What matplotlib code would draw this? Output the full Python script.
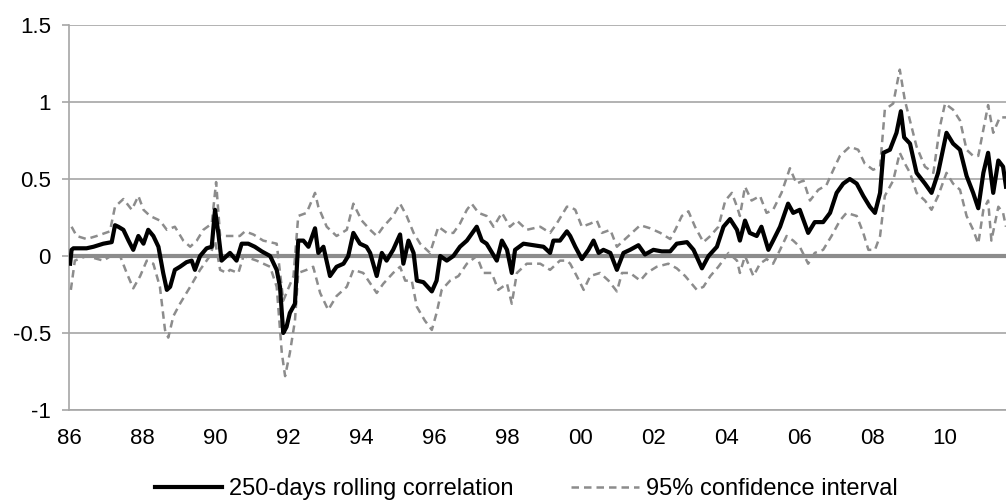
"""
Rolling correlation chart: 250-day rolling correlation with 95% confidence band.

Saves:
  out.png
"""

import matplotlib
matplotlib.use("Agg")
import matplotlib.pyplot as plt

# --- Data (decimal years) ---
corr_t = [
    1986.03, 1986.07, 1986.12, 1986.48, 1986.67, 1986.94, 1987.17, 1987.26, 1987.35, 1987.49,
    1987.63, 1987.76, 1987.90, 1988.04, 1988.17, 1988.31, 1988.45, 1988.58, 1988.68, 1988.77,
    1988.90, 1989.04, 1989.22, 1989.36, 1989.45, 1989.59, 1989.77, 1989.91, 1990.00, 1990.09,
    1990.18, 1990.32, 1990.41, 1990.59, 1990.73, 1990.91, 1991.09, 1991.28, 1991.51, 1991.69,
    1991.78, 1991.87, 1991.96, 1992.05, 1992.19, 1992.28, 1992.42, 1992.56, 1992.74, 1992.83,
    1992.97, 1993.15, 1993.33, 1993.52, 1993.65, 1993.79, 1993.97, 1994.15, 1994.25, 1994.43,
    1994.57, 1994.70, 1994.88, 1995.07, 1995.16, 1995.30, 1995.44, 1995.53, 1995.71, 1995.94,
    1996.07, 1996.17, 1996.35, 1996.53, 1996.71, 1996.90, 1997.17, 1997.31, 1997.44, 1997.72,
    1997.86, 1998.00, 1998.13, 1998.22, 1998.45, 1998.72, 1999.00, 1999.18, 1999.27, 1999.45,
    1999.64, 1999.73, 1999.87, 2000.05, 2000.23, 2000.37, 2000.51, 2000.64, 2000.83, 2001.01,
    2001.19, 2001.37, 2001.60, 2001.78, 2002.01, 2002.24, 2002.47, 2002.65, 2002.93, 2003.11,
    2003.34, 2003.52, 2003.75, 2003.93, 2004.11, 2004.30, 2004.38, 2004.52, 2004.65, 2004.84,
    2004.97, 2005.16, 2005.29, 2005.48, 2005.70, 2005.84, 2006.02, 2006.25, 2006.43, 2006.66,
    2006.85, 2007.03, 2007.21, 2007.39, 2007.58, 2007.76, 2007.94, 2008.08, 2008.22, 2008.31,
    2008.49, 2008.67, 2008.79, 2008.88, 2009.04, 2009.22, 2009.45, 2009.63, 2009.81, 2010.04,
    2010.22, 2010.41, 2010.59, 2010.77, 2010.91, 2011.05, 2011.18, 2011.32, 2011.46, 2011.59,
    2011.67,
]
corr_v = [
    -0.05, 0.04, 0.05, 0.05, 0.06, 0.08, 0.09, 0.20, 0.19, 0.17,
    0.10, 0.04, 0.13, 0.08, 0.17, 0.13, 0.06, -0.11, -0.22, -0.20,
    -0.09, -0.07, -0.04, -0.03, -0.09, 0.00, 0.05, 0.06, 0.30, 0.15,
    -0.03, 0.00, 0.02, -0.03, 0.08, 0.08, 0.06, 0.03, 0.00, -0.09,
    -0.20, -0.50, -0.46, -0.37, -0.31, 0.10, 0.10, 0.06, 0.18, 0.02,
    0.06, -0.13, -0.07, -0.05, 0.00, 0.15, 0.08, 0.06, 0.02, -0.13,
    0.02, -0.03, 0.04, 0.14, -0.05, 0.10, 0.02, -0.16, -0.17, -0.23,
    -0.16, 0.00, -0.03, 0.00, 0.06, 0.10, 0.19, 0.10, 0.08, -0.03,
    0.10, 0.04, -0.11, 0.04, 0.08, 0.07, 0.06, 0.02, 0.10, 0.10,
    0.16, 0.13, 0.06, -0.02, 0.04, 0.10, 0.02, 0.04, 0.02, -0.09,
    0.02, 0.04, 0.07, 0.01, 0.04, 0.03, 0.03, 0.08, 0.09, 0.04,
    -0.08, 0.00, 0.06, 0.19, 0.24, 0.17, 0.10, 0.23, 0.15, 0.13,
    0.19, 0.04, 0.10, 0.19, 0.34, 0.28, 0.30, 0.15, 0.22, 0.22,
    0.28, 0.41, 0.47, 0.50, 0.47, 0.39, 0.32, 0.28, 0.41, 0.67,
    0.69, 0.80, 0.94, 0.77, 0.73, 0.54, 0.47, 0.41, 0.54, 0.80,
    0.73, 0.69, 0.52, 0.41, 0.31, 0.54, 0.67, 0.41, 0.62, 0.58,
    0.45,
]

upper_t = [
    1986.07, 1986.21, 1986.48, 1986.76, 1987.12, 1987.26, 1987.49, 1987.72, 1987.90, 1988.04,
    1988.22, 1988.49, 1988.68, 1988.90, 1989.13, 1989.32, 1989.50, 1989.68, 1989.91, 1990.03,
    1990.14, 1990.41, 1990.68, 1990.82, 1991.05, 1991.32, 1991.69, 1991.87, 1992.15, 1992.28,
    1992.51, 1992.74, 1992.83, 1993.06, 1993.33, 1993.61, 1993.79, 1994.02, 1994.25, 1994.43,
    1994.61, 1994.88, 1995.07, 1995.25, 1995.44, 1995.62, 1995.89, 1996.12, 1996.35, 1996.53,
    1996.71, 1996.90, 1997.03, 1997.22, 1997.44, 1997.63, 1997.86, 1998.08, 1998.27, 1998.54,
    1998.91, 1999.18, 1999.36, 1999.64, 1999.73, 1999.87, 2000.05, 2000.28, 2000.46, 2000.60,
    2000.83, 2001.01, 2001.19, 2001.42, 2001.65, 2001.92, 2002.20, 2002.47, 2002.61, 2002.79,
    2002.97, 2003.15, 2003.38, 2003.57, 2003.79, 2003.98, 2004.16, 2004.30, 2004.38, 2004.52,
    2004.70, 2004.93, 2005.11, 2005.29, 2005.52, 2005.75, 2005.93, 2006.12, 2006.30, 2006.53,
    2006.75, 2006.94, 2007.12, 2007.39, 2007.62, 2007.80, 2008.03, 2008.22, 2008.35, 2008.58,
    2008.76, 2008.90, 2009.04, 2009.22, 2009.45, 2009.68, 2009.86, 2010.00, 2010.22, 2010.41,
    2010.59, 2010.77, 2010.91, 2011.05, 2011.18, 2011.32, 2011.50, 2011.67,
]
upper_v = [
    0.19, 0.13, 0.11, 0.13, 0.16, 0.32, 0.37, 0.30, 0.39, 0.30,
    0.26, 0.23, 0.17, 0.19, 0.10, 0.06, 0.10, 0.17, 0.21, 0.48,
    0.13, 0.13, 0.13, 0.16, 0.14, 0.10, 0.08, -0.29, -0.13, 0.26,
    0.28, 0.41, 0.32, 0.19, 0.13, 0.17, 0.34, 0.23, 0.17, 0.13,
    0.19, 0.26, 0.34, 0.26, 0.15, 0.08, 0.02, 0.19, 0.15, 0.15,
    0.21, 0.30, 0.34, 0.28, 0.26, 0.19, 0.28, 0.19, 0.23, 0.17,
    0.19, 0.15, 0.21, 0.32, 0.32, 0.30, 0.19, 0.21, 0.23, 0.15,
    0.17, 0.06, 0.10, 0.15, 0.20, 0.18, 0.15, 0.11, 0.17, 0.26,
    0.29, 0.19, 0.09, 0.13, 0.19, 0.36, 0.41, 0.32, 0.26, 0.45,
    0.36, 0.39, 0.28, 0.30, 0.41, 0.57, 0.47, 0.49, 0.36, 0.43,
    0.46, 0.56, 0.65, 0.71, 0.69, 0.60, 0.56, 0.58, 0.95, 0.99,
    1.21, 1.01, 0.88, 0.71, 0.58, 0.54, 0.84, 0.99, 0.95, 0.88,
    0.69, 0.65, 0.65, 0.82, 0.98, 0.80, 0.90, 0.90,
]

lower_t = [
    1986.05, 1986.16, 1986.48, 1986.94, 1987.21, 1987.40, 1987.58, 1987.76, 1987.95, 1988.13,
    1988.31, 1988.49, 1988.63, 1988.72, 1988.86, 1989.04, 1989.32, 1989.59, 1989.86, 1990.00,
    1990.14, 1990.32, 1990.41, 1990.64, 1990.78, 1991.14, 1991.51, 1991.69, 1991.83, 1991.92,
    1992.05, 1992.19, 1992.28, 1992.51, 1992.69, 1992.88, 1993.10, 1993.33, 1993.61, 1993.79,
    1994.06, 1994.43, 1994.61, 1994.88, 1995.07, 1995.21, 1995.39, 1995.53, 1995.75, 1995.94,
    1996.07, 1996.21, 1996.44, 1996.67, 1996.90, 1997.17, 1997.35, 1997.58, 1997.76, 1998.00,
    1998.13, 1998.27, 1998.54, 1998.91, 1999.18, 1999.45, 1999.64, 1999.73, 1999.91, 2000.10,
    2000.28, 2000.55, 2000.78, 2001.01, 2001.15, 2001.37, 2001.65, 2001.83, 2002.10, 2002.42,
    2002.65, 2002.88, 2003.20, 2003.38, 2003.57, 2003.79, 2004.07, 2004.30, 2004.38, 2004.52,
    2004.75, 2004.93, 2005.11, 2005.29, 2005.48, 2005.66, 2005.84, 2006.02, 2006.25, 2006.43,
    2006.66, 2006.89, 2007.12, 2007.30, 2007.58, 2007.76, 2007.90, 2008.08, 2008.22, 2008.35,
    2008.58, 2008.76, 2008.90, 2009.04, 2009.22, 2009.45, 2009.63, 2009.81, 2010.04, 2010.22,
    2010.41, 2010.59, 2010.77, 2010.91, 2011.05, 2011.18, 2011.27, 2011.46, 2011.59, 2011.67,
]
lower_v = [
    -0.22, -0.03, 0.00, -0.03, 0.01, 0.00, -0.11, -0.21, -0.13, -0.03,
    -0.05, -0.20, -0.48, -0.53, -0.39, -0.31, -0.20, -0.09, 0.00, 0.10,
    -0.09, -0.11, -0.09, -0.11, 0.00, -0.03, -0.07, -0.20, -0.63, -0.78,
    -0.63, -0.42, -0.11, -0.09, -0.07, -0.24, -0.35, -0.26, -0.20, -0.09,
    -0.11, -0.24, -0.18, -0.11, -0.07, -0.16, -0.16, -0.33, -0.42, -0.48,
    -0.37, -0.22, -0.16, -0.13, -0.05, 0.00, -0.11, -0.11, -0.22, -0.18,
    -0.31, -0.11, -0.05, -0.05, -0.09, -0.03, -0.03, -0.05, -0.13, -0.22,
    -0.13, -0.11, -0.16, -0.23, -0.11, -0.11, -0.16, -0.11, -0.07, -0.05,
    -0.08, -0.13, -0.22, -0.20, -0.13, -0.07, 0.02, -0.03, -0.11, 0.00,
    -0.13, -0.05, -0.02, -0.05, 0.04, 0.13, 0.10, 0.06, -0.05, 0.02,
    0.04, 0.13, 0.23, 0.28, 0.26, 0.15, 0.04, 0.04, 0.13, 0.39,
    0.49, 0.67, 0.60, 0.54, 0.41, 0.36, 0.30, 0.39, 0.54, 0.47,
    0.43, 0.26, 0.17, 0.08, 0.30, 0.36, 0.10, 0.32, 0.28, 0.19,
]

year_ticks = list(range(1986, 2011, 2))
year_labels = [f"{y % 100:02d}" for y in year_ticks]
y_ticks = [-1, -0.5, 0, 0.5, 1, 1.5]
y_labels = ["-1", "-0.5", "0", "0.5", "1", "1.5"]

# --- Style ---
plt.rcParams["font.family"] = ["Liberation Sans", "DejaVu Sans"]
GRID = "#a6a6a6"
DASH_GREY = "#8c8c8c"
FS = 16

fig = plt.figure(figsize=(10.06, 5.0), dpi=100)
ax = fig.add_axes([0.0686, 0.18, 0.9314, 0.77])

# Horizontal gridlines + thicker zero line
for yv in y_ticks:
    if yv == 0:
        continue
    ax.axhline(yv, color=GRID, lw=1.2, zorder=1)
ax.axhline(0, color="#8c8c8c", lw=3, zorder=2)

# Confidence band (dashed) and rolling correlation
ax.plot(upper_t, upper_v, color=DASH_GREY, lw=1.8, ls=(0, (3, 2)), zorder=3,
        label="95% confidence interval")
ax.plot(lower_t, lower_v, color=DASH_GREY, lw=1.8, ls=(0, (3, 2)), zorder=3)
ax.plot(corr_t, corr_v, color="black", lw=3, zorder=4,
        label="250-days rolling correlation")

# Axes
ax.set_xlim(1986, 2011.67)
ax.set_ylim(-1, 1.5)
ax.set_xticks(year_ticks)
ax.set_xticklabels(year_labels, fontsize=FS)
ax.set_yticks(y_ticks)
ax.set_yticklabels(y_labels, fontsize=FS)
ax.tick_params(axis="x", length=0, pad=13)
ax.tick_params(axis="y", length=5, width=1.2, color=GRID, pad=8)

for side in ("top", "right"):
    ax.spines[side].set_visible(False)
for side in ("left", "bottom"):
    ax.spines[side].set_color(GRID)
    ax.spines[side].set_linewidth(1.2)

# Legend (correlation first)
handles, labels = ax.get_legend_handles_labels()
fig.legend(handles[::-1], labels[::-1], loc="center", ncol=2,
           bbox_to_anchor=(0.523, 0.022), frameon=False, fontsize=17,
           handlelength=2.85, handletextpad=0.3, columnspacing=2.45,
           borderpad=0)

fig.savefig("out.png", dpi=100)
plt.close(fig)
